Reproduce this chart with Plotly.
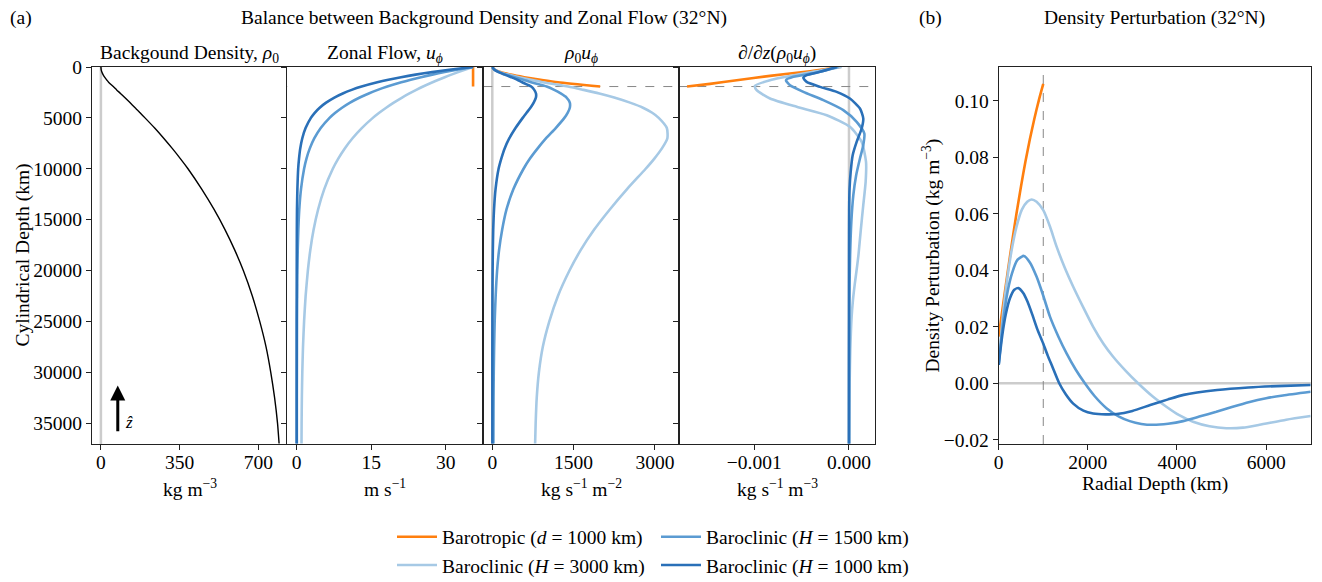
import plotly.graph_objects as go

W, H = 1322, 582
FONT = "Liberation Serif"
FS = 19.5
INK = "#222222"

ORANGE = "#ff7f0e"
LIGHT = "#a6c9e5"
MED = "#5b9bd2"
DARK = "#2a70b8"


def px(x):
    return x / W


def py(y):
    return 1 - y / H


# ---- (a) profiles along the 32N cylinder, cylindrical depth in km ----
depth_km = [0, 250, 500, 750, 1000, 1250, 1500, 1920, 2250, 2600, 3000, 3500, 4000,
            4500, 5000, 6000, 7000, 8000, 9000, 10000, 12000, 14000, 16000, 18000,
            20000, 22500, 25000, 27500, 30000, 32500, 35000, 37000]

rho0 = [0, 1.1, 4.2, 9.5, 16.5, 25, 34, 55, 70, 87, 106, 129, 152, 174, 196, 239, 279,
        317, 353, 387, 448, 503, 552, 595, 633, 673, 706, 734, 755, 772, 785, 792]

u_h3000 = [35.5, 33.97, 32.51, 31.13, 29.80, 28.54, 27.34, 25.44, 24.07, 22.69, 21.22,
           19.54, 18.01, 16.61, 15.33, 13.10, 11.24, 9.68, 8.37, 7.27, 5.55, 4.31, 3.40,
           2.74, 2.25, 1.80, 1.49, 1.27, 1.13, 1.04, 0.99, 0.97]
u_h1500 = [35.5, 32.51, 29.78, 27.29, 25.02, 22.95, 21.06, 18.23, 16.31, 14.50, 12.69,
           10.75, 9.13, 7.77, 6.62, 4.84, 3.56, 2.64, 1.97, 1.49, 0.87, 0.52, 0.33, 0.21,
           0.14, 0.09, 0.06, 0.05, 0.04, 0.03, 0.03, 0.03]
u_h1000 = [35.5, 31.10, 27.27, 23.93, 21.00, 18.45, 16.22, 13.06, 11.06, 9.27, 7.59, 5.92,
           4.63, 3.63, 2.86, 1.79, 1.13, 0.72, 0.47, 0.30, 0.14, 0.06, 0.03, 0.02, 0.01,
           0.01, 0.0, 0.0, 0.0, 0.0, 0.0, 0.0]

rhou_h3000 = [0, 37, 137, 296, 492, 714, 930, 1399, 1685, 1974, 2249, 2540, 2780, 2950,
              3070, 3220, 3230, 3130, 2990, 2830, 2486, 2168, 1877, 1630, 1424, 1211,
              1052, 932, 860, 820, 800, 790]
rhou_h1500 = [0, 36, 125, 259, 413, 574, 716, 1003, 1142, 1262, 1370, 1430, 1430, 1390,
              1330, 1170, 993, 837, 695, 577, 390, 262, 182, 125, 89, 62, 44, 34, 27, 23,
              21, 20]
rhou_h1000 = [0, 34, 115, 227, 347, 461, 551, 718, 774, 806, 805, 764, 704, 632, 561, 428,
              315, 228, 166, 116, 60, 32, 17, 10, 6, 3, 2, 1, 1, 1, 1, 1]

# barotropic flow confined above d = 1000 km
bt_depth_km = [0, 250, 500, 750, 1000, 1250, 1500, 1920]
u_bt = [35.5, 35.5, 35.5, 35.5, 35.5, 35.5, 35.5, 35.5]
rhou_bt = [0, 40, 150, 340, 590, 890, 1210, 1990]

dz_bt_depth = [0, 413, 871, 1297, 1657, 1920]
dz_bt = [-0.90e-4, -4.12e-4, -8.34e-4, -11.86e-4, -14.68e-4, -17.1e-4]

dz_h1000_depth = [0, 478, 806, 1068, 1461, 1952, 2443, 3098, 4080, 5063, 6045, 7354,
                  8664, 10301, 11938, 14000, 18487, 25000, 37000]
dz_h1000 = [-1.30e-4, -3.06e-4, -4.47e-4, -4.82e-4, -4.47e-4, -3.06e-4, -1.30e-4, 0.1e-4,
            1.16e-4, 1.51e-4, 1.34e-4, 0.81e-4, 0.39e-4, 0.18e-4, 0.06e-4, 0.02e-4, 0.005e-4,
            0, 0]

dz_h1500_depth = [0, 543, 969, 1297, 1788, 2443, 3262, 4244, 5390, 6536, 7682, 8992,
                  10629, 12593, 15213, 18487, 21500, 25000, 30000, 37000]
dz_h1500 = [-1.13e-4, -3.41e-4, -5.88e-4, -6.65e-4, -6.23e-4, -4.82e-4, -2.71e-4, -0.60e-4,
            0.81e-4, 1.62e-4, 1.51e-4, 1.16e-4, 0.76e-4, 0.46e-4, 0.25e-4, 0.12e-4, 0.06e-4,
            0.03e-4, 0.01e-4, 0]

dz_h3000_depth = [0, 642, 1297, 1854, 2280, 3098, 3917, 4735, 5881, 7354, 9319, 11284,
                  13576, 16196, 18487, 20000, 21268, 22900, 24548, 27820, 31090, 37000]
dz_h3000 = [-0.77e-4, -4.82e-4, -8.34e-4, -9.93e-4, -9.75e-4, -8.34e-4, -5.52e-4, -2.35e-4,
            0.1e-4, 1.34e-4, 1.80e-4, 1.76e-4, 1.51e-4, 1.23e-4, 1.00e-4, 0.80e-4, 0.62e-4,
            0.42e-4, 0.28e-4, 0.14e-4, 0.07e-4, 0.03e-4]

# ---- (b) density perturbation vs radial depth ----
drho_bt_x = [0, 100, 200, 300, 400, 500, 600, 700, 800, 900, 1000]
drho_bt = [0.0165, 0.0280, 0.0392, 0.0500, 0.0602, 0.0697, 0.0785, 0.0865, 0.0937, 0.1002,
           0.1060]

drho_h3000_x = [0, 100, 200, 300, 400, 520, 640, 739, 850, 1000, 1150, 1299, 1480, 1672,
                1900, 2120, 2350, 2568, 2850, 3127, 3450, 3762, 4050, 4360, 4730, 5107,
                5480, 5853, 6451, 7000]
drho_h3000 = [0.0065, 0.025, 0.038, 0.048, 0.0555, 0.0615, 0.0643, 0.0651, 0.0643, 0.0613,
              0.0555, 0.0484, 0.0410, 0.0342, 0.0268, 0.0200, 0.0140, 0.0094, 0.0044, 0.0,
              -0.0046, -0.0083, -0.0113, -0.0136, -0.0152, -0.0159, -0.0157, -0.0147,
              -0.0129, -0.0116]

drho_h1500_x = [0, 100, 200, 300, 420, 567, 700, 851, 1000, 1150, 1340, 1523, 1730, 1933,
                2150, 2418, 2700, 2940, 3200, 3464, 3800, 4136, 4500, 4883, 5250, 5630,
                6000, 6376, 7000]
drho_h1500 = [0.0065, 0.022, 0.0325, 0.039, 0.0437, 0.0451, 0.0428, 0.0377, 0.031, 0.0236,
              0.0165, 0.0106, 0.0048, 0.0, -0.0045, -0.0088, -0.0118, -0.0134, -0.0144,
              -0.0147, -0.0143, -0.0134, -0.0118, -0.0101, -0.0083, -0.0066, -0.0053,
              -0.0043, -0.0030]

drho_h1000_x = [0, 80, 160, 250, 350, 440, 550, 650, 750, 870, 1000, 1100, 1200, 1358,
                1500, 1672, 1900, 2120, 2400, 2650, 3000, 3400, 3800, 4150, 4900, 5600,
                6400, 7000]
drho_h1000 = [0.0065, 0.017, 0.0245, 0.030, 0.0331, 0.0337, 0.032, 0.0288, 0.0245, 0.019,
              0.0140, 0.0098, 0.0060, 0.0, -0.0038, -0.0072, -0.0097, -0.0107, -0.0110,
              -0.0109, -0.0098, -0.0077, -0.0057, -0.0041, -0.0024, -0.0015, -0.0009,
              -0.0006]

LEG_BT = "Barotropic (<i>d</i> = 1000 km)"
LEG_3000 = "Baroclinic (<i>H</i> = 3000 km)"
LEG_1500 = "Baroclinic (<i>H</i> = 1500 km)"
LEG_1000 = "Baroclinic (<i>H</i> = 1000 km)"

# panel geometry in pixels
P_LEFT = [92, 287.3, 483.3, 679.3]
P_W = 196
PB = (998.7, 1310.7)
TOP, BOT = 67, 444

fig = go.Figure()

LW = 2.6


def prof(x, y, color, ax, width=LW):
    fig.add_trace(go.Scatter(x=x, y=y, xaxis="x" + ("" if ax == 1 else str(ax)),
                             yaxis="y" + ("" if ax == 1 else str(ax)), mode="lines",
                             line=dict(color=color, width=width, shape="spline", smoothing=0.6),
                             showlegend=False, hoverinfo="skip"))


# (a) panel 1
prof(rho0, depth_km, "black", 1, width=1.4)
# (a) panel 2
prof(u_bt, bt_depth_km, ORANGE, 2)
prof(u_h3000, depth_km, LIGHT, 2)
prof(u_h1500, depth_km, MED, 2)
prof(u_h1000, depth_km, DARK, 2)
# (a) panel 3
prof(rhou_bt, bt_depth_km, ORANGE, 3)
prof(rhou_h3000, depth_km, LIGHT, 3)
prof(rhou_h1500, depth_km, MED, 3)
prof(rhou_h1000, depth_km, DARK, 3)
# (a) panel 4
prof(dz_bt, dz_bt_depth, ORANGE, 4)
prof(dz_h3000, dz_h3000_depth, LIGHT, 4)
prof(dz_h1500, dz_h1500_depth, MED, 4)
prof(dz_h1000, dz_h1000_depth, DARK, 4)

# (b)
for xs, ys, c, name, leg in [
    (drho_bt_x, drho_bt, ORANGE, LEG_BT, "legend"),
    (drho_h3000_x, drho_h3000, LIGHT, LEG_3000, "legend"),
    (drho_h1500_x, drho_h1500, MED, LEG_1500, "legend2"),
    (drho_h1000_x, drho_h1000, DARK, LEG_1000, "legend2"),
]:
    fig.add_trace(go.Scatter(x=xs, y=ys, xaxis="x5", yaxis="y5", mode="lines", name=name,
                             legend=leg,
                             line=dict(color=c, width=LW, shape="spline", smoothing=0.6),
                             hoverinfo="skip"))

axis_common = dict(showgrid=False, zeroline=False, showline=True, mirror=True,
                   linecolor=INK, linewidth=1, ticks="outside", ticklen=5, tickwidth=1,
                   tickcolor=INK, tickfont=dict(family=FONT, size=FS, color="black"))

ydom = [py(BOT), py(TOP)]
depth_ticks = [0, 5000, 10000, 15000, 20000, 25000, 30000, 35000]
yr = [37050, 0]

x_ranges = [[-39.6, 831.6], [-1.89, 37.56], [-166, 3450], [-0.001792, 0.000278]]
x_ticks = [[0, 350, 700], [0, 15, 30], [0, 1500, 3000], [-0.001, 0.0]]
x_ticktext = [["0", "350", "700"], ["0", "15", "30"], ["0", "1500", "3000"],
              ["\u22120.001", "0.000"]]

layout = dict(width=W, height=H, plot_bgcolor="white", paper_bgcolor="white",
              margin=dict(l=0, r=0, t=0, b=0, autoexpand=False),
              font=dict(family=FONT, size=FS, color="black"))

for i in range(4):
    k = "" if i == 0 else str(i + 1)
    layout["xaxis" + k] = dict(axis_common, domain=[px(P_LEFT[i]), px(P_LEFT[i] + P_W)],
                               range=x_ranges[i], tickvals=x_ticks[i],
                               ticktext=x_ticktext[i], anchor="y" + k,
                               ticklabelstandoff=-4)
    ya = dict(axis_common, domain=ydom, range=yr, tickvals=depth_ticks,
              ticktext=[str(t) for t in depth_ticks], anchor="x" + k,
              showticklabels=(i == 0))
    if i > 0:
        ya["matches"] = "y"
    layout["yaxis" + k] = ya

layout["xaxis5"] = dict(axis_common, domain=[px(PB[0]), px(PB[1])], range=[0, 7000],
                        tickvals=[0, 2000, 4000, 6000], ticktext=["0", "2000", "4000", "6000"],
                        anchor="y5", ticklabelstandoff=-4)
layout["yaxis5"] = dict(axis_common, domain=ydom, range=[-0.0215, 0.112],
                        tickvals=[-0.02, 0, 0.02, 0.04, 0.06, 0.08, 0.10],
                        ticktext=["\u22120.02", "0.00", "0.02", "0.04", "0.06", "0.08", "0.10"],
                        anchor="x5")

leg_common = dict(xanchor="left", yanchor="top", bgcolor="rgba(0,0,0,0)", borderwidth=0,
                  font=dict(family=FONT, size=FS, color="black"), itemwidth=40,
                  tracegroupgap=0, orientation="v")
layout["legend"] = dict(leg_common, x=px(392), y=py(517.5))
layout["legend2"] = dict(leg_common, x=px(656), y=py(517.5))

fig.update_layout(**layout)

# reference lines
shapes = []
for i in range(4):
    k = "" if i == 0 else str(i + 1)
    shapes.append(dict(type="line", xref="x" + k, yref="y" + k + " domain" if k else "y domain",
                       x0=0, x1=0, y0=0, y1=1, line=dict(color="#cccccc", width=2.5),
                       layer="below"))
for k in ["2", "3", "4"]:
    shapes.append(dict(type="line", xref="x" + k + " domain", yref="y" + k, x0=0, x1=1,
                       y0=1920, y1=1920, line=dict(color="#888888", width=1, dash="dash"),
                       layer="below"))
shapes.append(dict(type="line", xref="x5 domain", yref="y5", x0=0, x1=1, y0=0, y1=0,
                   line=dict(color="#cccccc", width=2.5), layer="below"))
shapes.append(dict(type="line", xref="x5", yref="y5 domain", x0=1000, x1=1000, y0=0, y1=1,
                   line=dict(color="#888888", width=1, dash="dash"), layer="below"))
fig.update_layout(shapes=shapes)

ann = []


def text(x, y, s, xanchor="center", size=FS, textangle=0):
    ann.append(dict(x=px(x), y=py(y), xref="paper", yref="paper", text=s, showarrow=False,
                    xanchor=xanchor, yanchor="middle", textangle=textangle,
                    font=dict(family=FONT, size=size, color="black")))


text(8, 18, "(a)", xanchor="left")
text(483.5, 18, "Balance between Background Density and Zonal Flow (32\u00b0N)")
text(917, 18, "(b)", xanchor="left")
text(1154.7, 18, "Density Perturbation (32\u00b0N)")

sub_titles = ["Backgound Density, <i>\u03c1</i><sub>0</sub>",
              "Zonal Flow, <i>u</i><sub><i>\u03d5</i></sub>",
              "<i>\u03c1</i><sub>0</sub><i>u</i><sub><i>\u03d5</i></sub>",
              "\u2202/\u2202<i>z</i>(<i>\u03c1</i><sub>0</sub><i>u</i><sub><i>\u03d5</i></sub>)"]
units = ["kg m<sup>\u22123</sup>", "m s<sup>\u22121</sup>",
         "kg s<sup>\u22121</sup> m<sup>\u22122</sup>", "kg s<sup>\u22121</sup> m<sup>\u22123</sup>"]
for i in range(4):
    cx = P_LEFT[i] + P_W / 2
    text(cx, 54, sub_titles[i])
    text(cx, 488, units[i])

text(1154.7, 484, "Radial Depth (km)")
text(22, 255.5, "Cylindrical Depth (km)", textangle=-90)
text(931, 255.5, "Density Perturbation (kg m<sup>\u22123</sup>)", textangle=-90)

# upward unit vector in the density panel
ann.append(dict(x=75, y=31300, xref="x", yref="y", ax=75, ay=35950, axref="x", ayref="y",
                showarrow=True, arrowhead=2, arrowsize=1, arrowwidth=3, arrowcolor="black",
                text=""))
ann.append(dict(x=100, y=34900, xref="x", yref="y", text="<i>\u1e91</i>", showarrow=False,
                xanchor="left", font=dict(family=FONT, size=17, color="black")))

fig.update_layout(annotations=ann)

fig.write_html("out.html")
